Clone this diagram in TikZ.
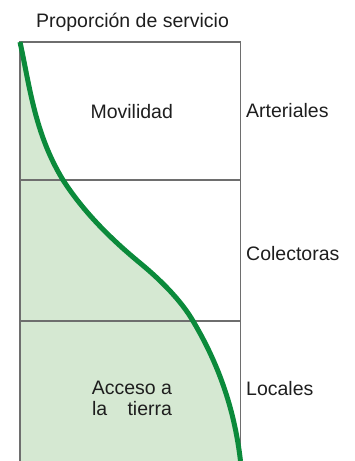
\documentclass[tikz,border=0pt]{standalone}
\usepackage{fontspec}
\setmainfont{Liberation Sans}
\definecolor{gridgray}{HTML}{6E6E6E}
\definecolor{areafill}{HTML}{D5E8D2}
\definecolor{curvegreen}{HTML}{0B8A3B}
\definecolor{txt}{HTML}{1E1E1E}
\begin{document}
\begin{tikzpicture}[x=1pt,y=-1pt,
  lbl/.style={anchor=base west,inner sep=0pt,text=txt,font=\fontsize{19.5}{23}\selectfont},
  ctr/.style={anchor=base,inner sep=0pt,text=txt,font=\fontsize{19.5}{23}\selectfont},
  gridline/.style={draw=gridgray,line width=1.3pt},
  curve/.style={draw=curvegreen,line width=5pt}]
\useasboundingbox (0,0) rectangle (355,461);
\clip (0,0) rectangle (355,461);
% shaded area
\fill[areafill] (20,42) .. controls (30,88) and (35,134) .. (63,180)
  .. controls (81,208) and (106,235) .. (140,263)
  .. controls (163,282) and (182,302) .. (193,321)
  .. controls (221,368) and (235,414) .. (240.5,461)
  -- (20,461) -- cycle;
% frame
\draw[gridline] (20,470) -- (20,42) -- (240.5,42) -- (240.5,470);
\draw[gridline] (20,180) -- (240.5,180);
\draw[gridline] (20,321) -- (240.5,321);
% curve
\draw[curve] (20,42) .. controls (30,88) and (35,134) .. (63,180)
  .. controls (81,208) and (106,235) .. (140,263)
  .. controls (163,282) and (182,302) .. (193,321)
  .. controls (221,368) and (235,414) .. (240.5,461);
% texts
\node[ctr] (title) at (132.5,27) {Proporción de servicio};
\node[ctr] (mov) at (131.7,118) {Movilidad};
\node[ctr] (acc1) at (132,394) {Acceso a};
\node[ctr] (acc2) at (132,415.7) {\makebox[80pt][s]{la tierra}};
\node[lbl] (art) at (246,117) {Arteriales};
\node[lbl] (col) at (246,260) {Colectoras};
\node[lbl] (loc) at (246,395) {Locales};
\end{tikzpicture}
\end{document}
